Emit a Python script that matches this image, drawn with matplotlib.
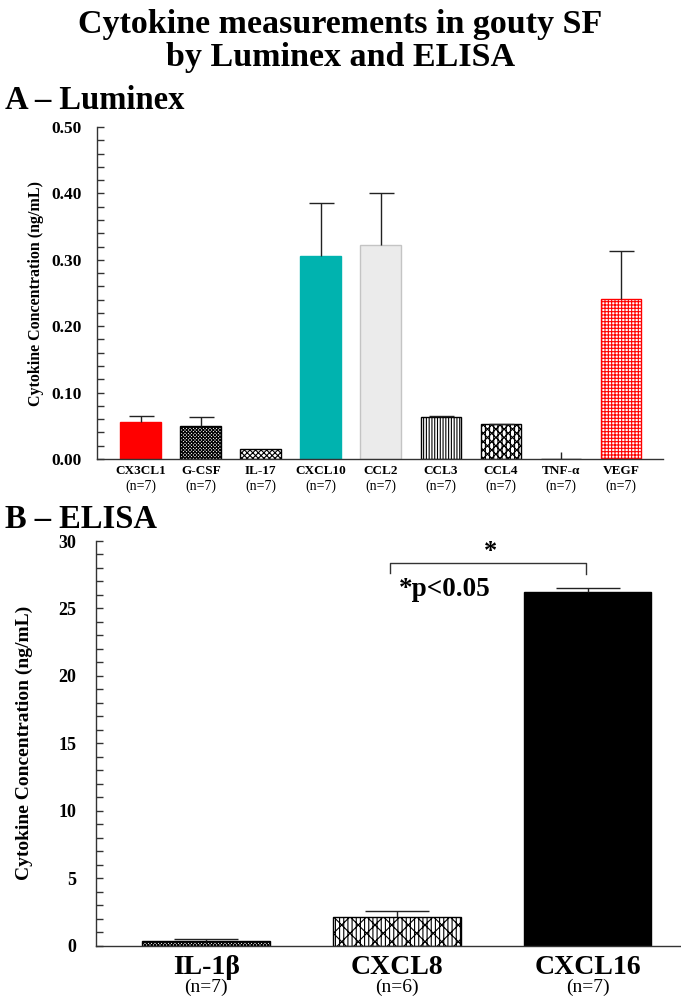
import matplotlib
matplotlib.use("Agg")
import matplotlib.pyplot as plt
import numpy as np
from matplotlib.ticker import MultipleLocator, FormatStrFormatter

# ---------------- data ----------------
lum_names = ["CX3CL1", "G-CSF", "IL-17", "CXCL10", "CCL2", "CCL3", "CCL4", "TNF-α", "VEGF"]
lum_n = ["(n=7)"] * 9
lum_values = [0.056, 0.049, 0.015, 0.305, 0.323, 0.063, 0.052, 0.0, 0.241]
lum_errors = [0.009, 0.015, 0.0, 0.080, 0.078, 0.002, 0.001, 0.011, 0.072]
lum_yticks = [0.00, 0.10, 0.20, 0.30, 0.40, 0.50]

eli_names = ["IL-1β", "CXCL8", "CXCL16"]
eli_n = ["(n=7)", "(n=6)", "(n=7)"]
eli_values = [0.35, 2.15, 26.2]
eli_errors = [0.17, 0.44, 0.35]
eli_yticks = [0, 5, 10, 15, 20, 25, 30]

title = "Cytokine measurements in gouty SF\nby Luminex and ELISA"
ylabel = "Cytokine Concentration (ng/mL)"
sig_text = "*p<0.05"

# ---------------- styles ----------------
lum_face = ["#ff0000", "white", "white", "#00b3af", "#ebebeb", "white", "white", "white", "white"]
lum_edge = ["#ff0000", "black", "black", "#00b3af", "#c4c4c4", "black", "black", "black", "#ff0000"]
lum_hatch = [None, "xxxxxxxxxx", "xxxxxx", None, None, "||||||", "xxxx||||", None, "+++++"]
eli_face = ["white", "white", "black"]
eli_edge = ["black", "black", "black"]
eli_hatch = ["xxxxxxxxxx", "xx||||", None]

serif = ["Liberation Serif", "DejaVu Serif"]
plt.rcParams["font.family"] = serif
plt.rcParams["hatch.linewidth"] = 0.8
plt.rcParams["axes.linewidth"] = 1.0

fig = plt.figure(figsize=(6.81, 10.06), dpi=100)

fig.text(0.5, 1 - 41 / 1006, title, ha="center", va="center", fontsize=24.5,
         fontweight="bold", linespacing=1.12)
fig.text(5 / 681, 1 - 109 / 1006, "A – Luminex", ha="left", va="baseline",
         fontsize=23.5, fontweight="bold")
fig.text(5 / 681, 1 - 528 / 1006, "B – ELISA", ha="left", va="baseline",
         fontsize=23.5, fontweight="bold")


def style_axis(ax, labelsize):
    for s in ["top", "right"]:
        ax.spines[s].set_visible(False)
    ax.spines["left"].set_color("#333333")
    ax.spines["bottom"].set_color("#333333")
    ax.tick_params(axis="x", length=0, labelbottom=False)
    ax.tick_params(axis="y", which="both", direction="in", length=5, width=1,
                   color="#333333", labelsize=labelsize)
    for lab in ax.get_yticklabels():
        lab.set_fontweight("bold")


def upper_errorbar(ax, x, v, e, capsize):
    cont = ax.errorbar(x, v, yerr=[np.zeros(len(v)), e], fmt="none", ecolor="#222222",
                       elinewidth=1.0, capsize=capsize, capthick=1.0, zorder=3)
    caps = cont[1]
    if len(caps) == 2:
        caps[0].set_visible(False)
    return cont


# ---------------- Panel A ----------------
axA = fig.add_axes([97 / 681, 1 - 459 / 1006, (663 - 97) / 681, (459 - 127) / 1006])
xa = np.arange(len(lum_names))
axA.bar(xa, lum_values, width=0.68, color=lum_face, edgecolor=lum_edge,
        linewidth=1.0, zorder=2)
for patch, h in zip(axA.patches, lum_hatch):
    if h:
        patch.set_hatch(h)
for x, v, e in zip(xa, lum_values, lum_errors):
    if e > 0:
        upper_errorbar(axA, [x], [v], [e], 0 if v == 0 else 9)
axA.set_xlim(-0.73, 8.7)
axA.set_ylim(0, 0.5)
axA.set_yticks(lum_yticks)
axA.yaxis.set_major_formatter(FormatStrFormatter("%.2f"))
axA.yaxis.set_minor_locator(MultipleLocator(0.02))
axA.tick_params(axis="y", pad=11)
style_axis(axA, 12.5)
axA.set_ylabel(ylabel, fontsize=11.5, fontweight="bold", labelpad=5)
for x, name, n in zip(xa, lum_names, lum_n):
    axA.annotate(name, xy=(x, 0), xycoords=("data", "axes fraction"),
                 xytext=(0, -8.5), textcoords="offset points", ha="center",
                 va="center", fontsize=9.5, fontweight="bold")
    axA.annotate(n, xy=(x, 0), xycoords=("data", "axes fraction"),
                 xytext=(0, -19.5), textcoords="offset points", ha="center",
                 va="center", fontsize=10)

# ---------------- Panel B ----------------
axB = fig.add_axes([95.7 / 681, 1 - 945.7 / 1006, (681 - 95.7) / 681, (945.7 - 541) / 1006])
xb = np.arange(len(eli_names))
axB.bar(xb, eli_values, width=0.67, color=eli_face, edgecolor=eli_edge,
        linewidth=1.0, zorder=2)
for patch, h in zip(axB.patches, eli_hatch):
    if h:
        patch.set_hatch(h)
upper_errorbar(axB, xb, eli_values, eli_errors, 23)
axB.set_xlim(-0.579, 2.49)
axB.set_ylim(0, 30)
axB.set_yticks(eli_yticks)
axB.yaxis.set_minor_locator(MultipleLocator(1))
axB.tick_params(axis="y", pad=14)
style_axis(axB, 13)
axB.set_ylabel(ylabel, fontsize=14, fontweight="bold", labelpad=18)
for x, name, n in zip(xb, eli_names, eli_n):
    axB.annotate(name, xy=(x, 0), xycoords=("data", "axes fraction"),
                 xytext=(0, -16), textcoords="offset points", ha="center",
                 va="center", fontsize=20, fontweight="bold")
    axB.annotate(n, xy=(x, 0), xycoords=("data", "axes fraction"),
                 xytext=(0, -30), textcoords="offset points", ha="center",
                 va="center", fontsize=14)

# significance bracket
axB.plot([0.966, 0.966, 1.993, 1.993], [27.6, 28.35, 28.35, 27.55],
         color="#333333", lw=1.0, clip_on=False)
axB.text(1.49, 29.2, "*", ha="center", va="center", fontsize=19, fontweight="bold")
axB.text(1.013, 26.4, sig_text, ha="left", va="center", fontsize=19.5, fontweight="bold")

fig.savefig("out.png", dpi=100)
